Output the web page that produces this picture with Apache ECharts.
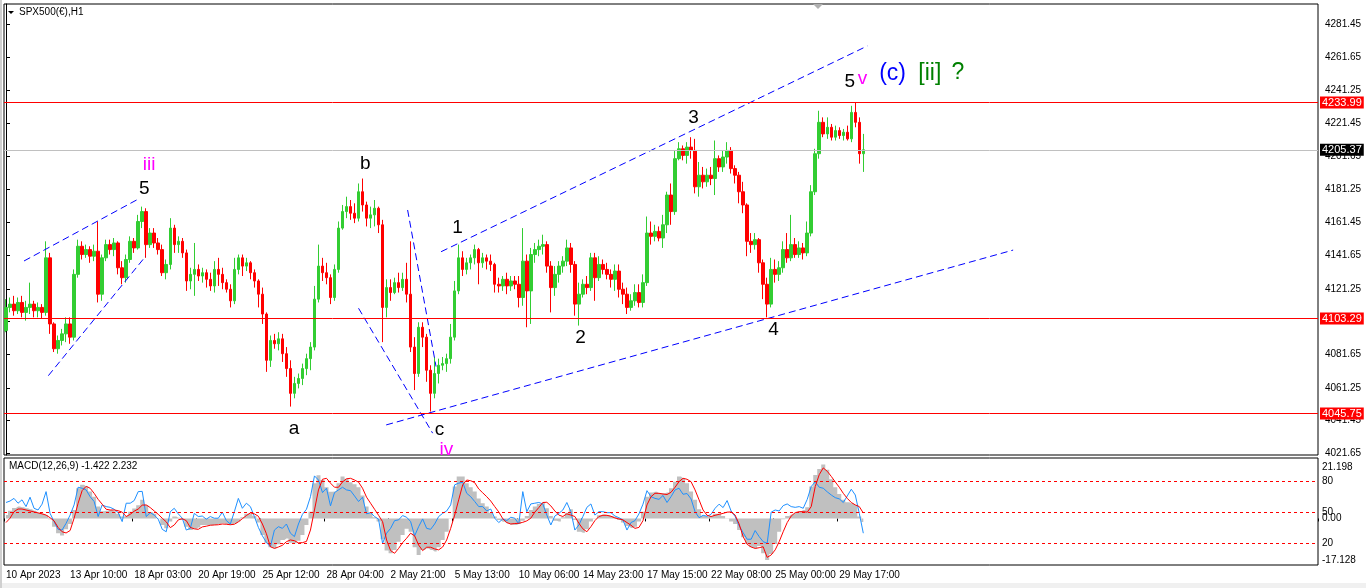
<!DOCTYPE html>
<html>
<head>
<meta charset="utf-8">
<title>SPX500(€),H1</title>
<script src="https://cdn.jsdelivr.net/npm/echarts@6/dist/echarts.min.js"></script>
<style>
html, body { margin: 0; padding: 0; background: #fff; }
#chart { width: 1366px; height: 588px; }
</style>
</head>
<body>
<div id="chart"></div>
<script>
// time axis labels, one every 16 bars
var timeLabels = ['10 Apr 2023', '13 Apr 10:00', '18 Apr 03:00', '20 Apr 19:00', '25 Apr 12:00', '28 Apr 04:00', '2 May 21:00',
	'5 May 13:00', '10 May 06:00', '14 May 23:00', '17 May 15:00', '22 May 08:00', '25 May 00:00', '29 May 17:00'];
// price scale labels
var priceTicks = [4021.65, 4041.45, 4061.25, 4081.65, 4101.45, 4121.25, 4141.65, 4161.45, 4181.25, 4201.65, 4221.45, 4241.25, 4261.65, 4281.45];
var macdTicks = [21.198, 0, -17.128];
var levelTicks = [20, 50, 80];
// horizontal levels
var priceLevels = [4233.99, 4103.29, 4045.75];
var lastPrice = 4205.37;

// candles [open, close, low, high]
var candles = [
	[4096,4110,4095,4115],[4110,4112,4107,4116],[4112,4108,4105,4117],[4108,4113,4106,4116],[4113,4107,4104,4117],
	[4107,4110,4102,4114],[4110,4112,4106,4125],[4112,4108,4104,4114],[4108,4110,4104,4113],[4110,4107,4103,4112],
	[4107,4140,4105,4150],[4140,4100,4094,4143],[4100,4085,4083,4101],[4085,4090,4082,4093],[4090,4094,4087,4097],
	[4094,4100,4089,4104],[4100,4092,4088,4104],[4092,4130,4090,4133],[4130,4147,4128,4151],[4147,4142,4139,4150],
	[4142,4145,4140,4148],[4145,4141,4137,4147],[4141,4144,4138,4148],[4144,4118,4113,4162],[4118,4140,4114,4142],
	[4140,4148,4138,4151],[4148,4145,4142,4151],[4145,4149,4141,4152],[4149,4134,4130,4150],[4134,4128,4124,4138],
	[4128,4139,4125,4142],[4139,4150,4137,4153],[4150,4146,4143,4152],[4146,4162,4145,4166],[4162,4168,4158,4171],
	[4168,4148,4140,4170],[4148,4155,4146,4158],[4155,4149,4146,4158],[4149,4145,4142,4152],[4145,4131,4129,4148],
	[4131,4136,4127,4139],[4136,4158,4133,4164],[4158,4148,4143,4160],[4148,4150,4143,4153],[4150,4143,4140,4152],
	[4143,4126,4120,4145],[4126,4130,4121,4134],[4130,4133,4117,4149],[4133,4129,4126,4136],[4129,4131,4125,4134],
	[4131,4127,4122,4133],[4127,4123,4120,4131],[4123,4133,4119,4138],[4133,4130,4123,4140],[4130,4125,4121,4134],
	[4125,4121,4119,4127],[4121,4114,4110,4124],[4114,4133,4112,4140],[4133,4140,4130,4142],[4140,4135,4129,4142],
	[4135,4137,4132,4140],[4137,4131,4127,4138],[4131,4126,4122,4133],[4126,4118,4110,4127],[4118,4106,4100,4122],
	[4106,4078,4071,4107],[4078,4090,4074,4093],[4090,4088,4085,4094],[4088,4091,4084,4095],[4091,4082,4077,4094],
	[4082,4073,4068,4086],[4073,4058,4050,4078],[4058,4064,4055,4068],[4064,4067,4061,4070],[4067,4073,4063,4076],
	[4073,4079,4069,4082],[4079,4086,4072,4089],[4086,4115,4084,4123],[4115,4135,4113,4148],[4135,4131,4126,4140],
	[4131,4128,4124,4137],[4128,4116,4112,4130],[4116,4133,4114,4136],[4133,4158,4131,4162],[4158,4168,4157,4172],
	[4168,4171,4164,4177],[4171,4167,4163,4175],[4167,4164,4161,4173],[4164,4180,4162,4185],[4180,4172,4168,4188],
	[4172,4164,4159,4174],[4164,4166,4158,4171],[4166,4170,4159,4175],[4170,4160,4155,4171],[4160,4110,4089,4163],
	[4110,4122,4104,4127],[4122,4119,4114,4127],[4119,4125,4118,4128],[4125,4122,4119,4131],[4122,4127,4120,4131],
	[4127,4118,4113,4137],[4118,4086,4083,4150],[4086,4070,4060,4092],[4070,4098,4068,4101],[4098,4092,4086,4101],
	[4092,4072,4065,4094],[4072,4058,4047,4075],[4058,4070,4055,4080],[4070,4075,4064,4079],[4075,4076,4072,4080],
	[4076,4079,4071,4082],[4079,4092,4076,4100],[4092,4120,4090,4126],[4120,4140,4118,4148],[4140,4133,4129,4144],
	[4133,4137,4130,4140],[4137,4140,4133,4142],[4140,4145,4136,4148],[4145,4137,4124,4146],[4137,4140,4134,4143],
	[4140,4138,4133,4142],[4138,4136,4132,4142],[4136,4124,4119,4137],[4124,4123,4119,4128],[4123,4127,4120,4129],
	[4127,4123,4118,4131],[4123,4126,4120,4129],[4126,4124,4121,4129],[4124,4116,4110,4129],[4116,4138,4111,4158],
	[4138,4120,4098,4142],[4120,4142,4100,4146],[4142,4145,4137,4149],[4145,4147,4141,4151],[4147,4148,4142,4154],
	[4148,4135,4131,4150],[4135,4122,4107,4138],[4122,4130,4117,4135],[4130,4135,4125,4138],[4135,4138,4131,4141],
	[4138,4146,4135,4151],[4146,4136,4131,4149],[4136,4112,4105,4138],[4112,4118,4099,4125],[4118,4124,4116,4127],
	[4124,4122,4118,4129],[4122,4140,4120,4143],[4140,4128,4114,4143],[4128,4136,4126,4141],[4136,4133,4130,4139],
	[4133,4130,4127,4137],[4130,4127,4122,4133],[4127,4132,4120,4136],[4132,4121,4116,4136],[4121,4118,4112,4125],
	[4118,4110,4106,4122],[4110,4114,4108,4118],[4114,4119,4111,4124],[4119,4113,4110,4124],[4113,4125,4110,4130],
	[4125,4155,4123,4165],[4155,4153,4148,4162],[4153,4156,4150,4160],[4156,4152,4150,4159],[4152,4160,4146,4166],
	[4160,4178,4155,4180],[4178,4168,4160,4185],[4168,4200,4166,4205],[4200,4206,4199,4210],[4206,4202,4199,4208],
	[4202,4207,4197,4210],[4207,4205,4200,4213],[4205,4183,4179,4212],[4183,4190,4177,4198],[4190,4186,4182,4195],
	[4186,4190,4183,4194],[4190,4188,4184,4195],[4188,4200,4178,4211],[4200,4195,4192,4202],[4195,4201,4192,4205],
	[4201,4205,4197,4210],[4205,4194,4191,4207],[4194,4190,4185,4196],[4190,4180,4173,4192],[4180,4172,4167,4186],
	[4172,4150,4141,4173],[4150,4148,4143,4155],[4148,4151,4145,4155],[4151,4137,4131,4152],[4137,4124,4115,4139],
	[4124,4112,4104,4128],[4112,4133,4110,4140],[4133,4130,4125,4139],[4130,4134,4126,4138],[4134,4145,4131,4150],
	[4145,4140,4137,4155],[4140,4148,4138,4166],[4148,4142,4140,4152],[4142,4146,4140,4150],[4146,4143,4139,4149],
	[4143,4155,4141,4162],[4155,4180,4153,4184],[4180,4203,4178,4206],[4203,4222,4200,4229],[4222,4215,4213,4225],
	[4215,4219,4212,4225],[4219,4213,4211,4221],[4213,4217,4211,4220],[4217,4214,4212,4219],[4214,4216,4211,4218],
	[4216,4212,4211,4220],[4212,4228,4210,4232],[4228,4222,4219,4234],[4222,4203,4197,4225],[4203,4205.37,4192,4215]
];

// MACD histogram (grey)
var macdHist = [
	1.4,3.2,4.3,4.9,4.6,4.2,3.8,3.2,2.4,1.9,
	1.4,-0.3,-3.4,-6.1,-7.0,-4.5,-2.3,3.5,12.5,13.9,
	13.2,11.1,9.0,4.9,3.0,3.2,3.5,3.0,1.9,0.8,
	1.0,2.8,4.1,5.5,7.7,5.6,2.7,1.9,0.1,-2.7,
	-4.1,-1.3,0.8,0.3,-0.6,-3.4,-4.8,-4.3,-3.7,-2.7,
	-2.7,-2.8,-2.7,-2.3,-2.0,-2.4,-2.7,-2.1,-1.3,0.5,
	1.9,1.9,1.0,-1.7,-6.8,-10.3,-11.9,-12.4,-10.7,-8.9,
	-8.3,-10.0,-10.3,-9.2,-6.8,-2.7,2.8,14.6,17.9,15.9,
	12.9,11.0,11.1,14.6,17.3,16.4,15.0,14.1,12.9,9.5,
	4.9,2.4,0.5,-1.3,-8.6,-13.3,-14.4,-13.0,-9.6,-6.8,
	-4.3,-5.5,-11.9,-15.1,-13.0,-12.4,-13.0,-13.7,-11.9,-8.9,
	-5.5,0.1,13.2,17.3,17.3,14.6,12.9,11.1,8.3,6.3,
	4.9,2.4,0.8,-0.6,-1.4,-2.0,-2.6,-2.7,-2.3,-0.9,
	1.0,3.5,4.9,6.0,6.8,4.2,1.0,-0.9,-1.3,0.5,
	2.4,3.8,-0.6,-5.5,-5.9,-4.5,-1.3,0.1,1.3,1.6,
	1.4,1.0,0.5,-0.6,-1.7,-3.1,-3.9,-3.4,-1.3,2.8,
	9.0,10.7,11.0,10.4,10.4,10.7,12.5,15.2,17.3,16.6,
	14.6,11.1,7.7,3.8,1.0,0.8,1.0,1.9,1.9,1.0,
	-0.1,-1.3,-2.3,-4.8,-7.8,-10.6,-11.9,-12.4,-11.4,-14.4,
	-17.2,-14.7,-10.6,-5.5,-0.3,1.0,1.6,2.4,3.0,3.5,
	4.6,13.2,18.0,20.4,22.3,20.1,16.2,12.9,10.1,7.7,
	6.7,6.3,5.6,0.8,-1.422
];
// MACD signal (red)
var macdSignal = [
	-1.7,0.1,2.8,3.9,3.9,3.5,3.1,2.7,2.3,1.9,
	1.4,0.3,-1.0,-3.7,-5.5,-6.0,-5.0,0.1,6.3,11.5,
	13.3,12.5,10.4,7.9,5.9,3.8,3.5,3.5,3.2,2.6,
	0.8,1.7,3.0,3.9,5.5,5.6,4.5,3.1,1.7,0.1,
	-1.4,-3.8,-2.7,-0.6,-0.1,-0.9,-3.7,-4.3,-4.5,-3.5,
	-3.2,-2.8,-2.7,-2.6,-2.3,-2.4,-2.6,-2.4,-1.4,-0.1,
	1.2,2.3,1.9,0.9,-2.3,-6.3,-11.7,-12.4,-11.8,-11.1,
	-9.6,-8.9,-9.2,-10.1,-10.0,-9.5,-4.8,3.5,11.8,16.2,
	16.6,14.6,12.9,12.9,15.1,16.4,16.6,15.9,15.0,12.5,
	8.8,6.3,3.8,1.3,-1.3,-8.9,-13.3,-14.4,-12.4,-10.0,
	-8.2,-6.1,-7.2,-11.0,-13.3,-11.9,-11.9,-12.6,-13.0,-11.8,
	-8.9,-4.1,1.4,7.7,13.9,15.9,15.6,14.8,12.2,10.6,
	9.0,7.2,4.9,2.7,-0.1,-1.7,-2.3,-2.1,-2.0,-1.6,
	-1.0,0.1,2.6,4.5,6.6,6.7,5.2,3.1,1.4,0.8,
	1.9,1.4,0.8,-2.0,-4.3,-5.5,-3.4,-0.9,0.8,1.3,
	1.3,0.9,0.2,-0.2,-0.6,-1.7,-2.8,-4.1,-3.7,-0.9,
	5.6,9.0,10.4,10.4,10.1,9.9,10.8,12.9,15.2,16.6,
	16.2,15.2,11.8,7.7,3.5,1.3,0.8,1.3,1.7,2.1,
	2.6,2.7,1.4,-2.3,-7.5,-10.7,-11.8,-12.4,-12.1,-11.7,
	-16.1,-15.1,-13.0,-9.6,-5.5,-1.7,1.0,2.4,2.8,2.8,
	2.6,4.9,13.2,18.1,20.9,19.5,17.4,15.1,12.9,10.4,
	8.3,6.6,5.6,4.9,2.232
];
// fast line (blue)
var fastLine = [
	6.6,7.2,8.3,6.3,7.7,4.9,8.8,4.2,3.5,5.9,
	11.1,2.1,-1.3,-4.5,-4.8,-2.0,1.4,5.6,12.9,12.5,
	11.8,9.0,7.0,0.8,5.6,4.9,4.6,3.8,2.4,-1.3,
	6.3,6.3,7.4,11.1,11.2,0.8,2.4,1.4,-0.3,-4.5,
	-5.5,2.8,4.2,1.9,0.1,-4.8,-4.1,2.1,0.8,1.0,
	-0.3,0.8,0.1,0.1,2.6,-0.9,-2.3,2.8,8.3,4.2,
	6.3,4.9,0.8,-3.7,-7.2,-9.9,-11.7,-4.8,-3.4,-4.1,
	-2.3,-6.1,-7.5,-2.3,1.7,3.8,9.0,17.6,15.9,10.7,
	12.5,5.2,10.7,11.8,12.9,11.8,11.5,9.3,7.0,8.8,
	1.9,2.4,0.8,-0.3,-10.3,-6.1,-4.1,-0.9,-0.6,1.2,
	0.5,-1.3,-7.2,-3.4,-0.2,-4.1,-4.5,-2.3,0.8,2.1,
	3.1,5.6,13.9,14.6,15.0,10.4,9.0,7.0,4.9,4.9,
	3.1,3.9,0.1,-1.7,-0.2,-0.9,0.5,0.1,-2.3,11.1,
	2.8,6.0,6.3,6.6,6.0,1.4,-2.7,1.0,2.1,3.5,
	6.6,2.8,-4.8,-2.7,0.8,4.6,6.0,1.4,2.8,2.8,
	2.4,2.4,1.0,0.3,-0.6,-4.8,-1.7,-0.9,1.9,5.9,
	11.5,9.0,8.3,7.9,9.5,6.6,9.0,11.8,12.5,10.0,
	10.3,8.1,2.8,0.3,1.3,0.9,1.7,4.2,5.9,4.5,
	7.4,3.1,0.8,-3.0,-5.9,-8.6,-8.6,-5.0,-7.5,-9.6,
	-10.3,2.6,3.5,3.1,5.3,6.0,4.9,4.6,4.9,4.2,
	7.9,13.2,15.2,12.9,12.5,11.0,9.7,8.6,8.1,6.6,
	9.3,12.1,9.7,2.1,-6.1
];

// trend lines [[bar, price], [bar, price]]
var trendLines = [
	[[108.6, 4143.7], [215.0, 4268.2]],
	[[94.9, 4038.9], [251.4, 4144.7]],
	[[4.5, 4138.1], [33.05, 4175.6]],
	[[10.57, 4068.7], [34.9, 4141.1]],
	[[88.0, 4109.5], [106.5, 4033.9]],
	[[100.25, 4168.95], [107.35, 4074.2]]
];

// wave labels
var waveText = ['iii', '5', 'b', 'a', 'c', 'iv', '1', '2', '3', '4', '5', 'v', '(c)', '[ii]', '?'];
var waveBar = [35.7, 34.5, 89.7, 71.9, 108.2, 109.9, 112.7, 143.4, 171.6, 191.6, 210.6, 213.8, 221.3, 230.6, 237.6];
var wavePrice = [4196.2, 4181.7, 4196.8, 4036.5, 4035.9, 4023.8, 4158.1, 4091.5, 4224.6, 4096.3, 4246.4, 4248.2, 4251.2, 4251.2, 4251.8];

var BAR_SLOTS = 328;
var FONT = 'Liberation Sans, Arial, sans-serif';

var cats = [];
for (var i = 0; i < BAR_SLOTS; i++) cats.push(String(i));

var waveColor = { 'iii': '#ff00ff', 'iv': '#ff00ff', 'v': '#ff00ff', '(c)': '#0000ff', '[ii]': '#008000', '?': '#008000' };
var waveBig = { '(c)': true, '[ii]': true, '?': true };

var showTime = function (idx) {
	return idx % 16 === 0 && idx / 16 < timeLabels.length;
};

var chart = echarts.init(document.getElementById('chart'));

var levelLines = priceLevels.map(function (v) {
	return {
		yAxis: v,
		lineStyle: { color: '#ff0000', width: 1, type: 'solid' },
		label: { backgroundColor: '#ff0000', color: '#ffffff' }
	};
});
levelLines.push({
	yAxis: lastPrice,
	lineStyle: { color: '#c0c0c0', width: 1, type: 'solid' },
	label: { backgroundColor: '#000000', color: '#ffffff' }
});

var series = [{
	type: 'candlestick',
	xAxisIndex: 0,
	yAxisIndex: 0,
	data: candles,
	barWidth: 3,
	itemStyle: {
		color: '#32cd32', color0: '#ff0000',
		borderColor: '#32cd32', borderColor0: '#ff0000', borderWidth: 1
	},
	markLine: {
		silent: true,
		symbol: ['none', 'none'],
		animation: false,
		label: {
			show: true, position: 'end', distance: 2,
			fontFamily: FONT, fontSize: 11, padding: [1, 2, 0, 2],
			formatter: function (p) { return p.value.toFixed(2); }
		},
		data: levelLines
	}
}];

trendLines.forEach(function (seg) {
	series.push({
		type: 'line',
		xAxisIndex: 1,
		yAxisIndex: 0,
		data: seg,
		showSymbol: false,
		silent: true,
		lineStyle: { color: '#0000ff', width: 1, type: [7, 4] }
	});
});

series.push({
	type: 'scatter',
	xAxisIndex: 1,
	yAxisIndex: 0,
	symbolSize: 1,
	silent: true,
	itemStyle: { color: 'rgba(0,0,0,0)', opacity: 1 },
	data: waveText.map(function (t, k) {
		return {
			value: [waveBar[k], wavePrice[k]],
			label: {
				show: true, position: 'inside', formatter: t,
				color: waveColor[t] || '#000000', opacity: 1,
				fontFamily: FONT, fontSize: waveBig[t] ? 23 : 19
			}
		};
	})
});

// histogram drawn as a stepped grey area so the columns join up
series.push({
	type: 'line',
	xAxisIndex: 2,
	yAxisIndex: 1,
	data: macdHist,
	step: 'middle',
	showSymbol: false,
	silent: true,
	lineStyle: { width: 0, color: '#c0c0c0' },
	areaStyle: { color: '#c0c0c0', opacity: 1, origin: 0 }
});
series.push({
	type: 'line',
	xAxisIndex: 2,
	yAxisIndex: 1,
	data: fastLine,
	showSymbol: false,
	silent: true,
	lineStyle: { color: '#1e90ff', width: 1 }
});
series.push({
	type: 'line',
	xAxisIndex: 2,
	yAxisIndex: 1,
	data: macdSignal,
	showSymbol: false,
	silent: true,
	lineStyle: { color: '#ff0000', width: 1 }
});
series.push({
	type: 'line',
	xAxisIndex: 2,
	yAxisIndex: 2,
	data: [],
	markLine: {
		silent: true,
		symbol: ['none', 'none'],
		animation: false,
		label: { show: false },
		lineStyle: { color: '#ff0000', width: 1, type: [3, 3] },
		data: levelTicks.map(function (v) { return { yAxis: v }; })
	}
});

var option = {
	animation: false,
	backgroundColor: '#ffffff',
	textStyle: { fontFamily: FONT },
	title: [{
		text: 'SPX500(€),H1', left: 19, top: 7, padding: 0,
		textStyle: { fontFamily: FONT, fontSize: 10, fontWeight: 'normal', color: '#000' }
	}, {
		text: 'MACD(12,26,9) -1.422 2.232', left: 9, top: 461, padding: 0,
		textStyle: { fontFamily: FONT, fontSize: 10, fontWeight: 'normal', color: '#000' }
	}],
	graphic: [
		{ type: 'polygon', shape: { points: [[8, 11], [14, 11], [11, 14]] }, style: { fill: '#000' } },
		{ type: 'polygon', shape: { points: [[813, 4], [823, 4], [818, 9]] }, style: { fill: '#b0b0b0' } },
		{ type: 'rect', shape: { x: 0, y: 583, width: 1366, height: 5 }, style: { fill: '#f0f0f0' } },
		{ type: 'rect', shape: { x: 0, y: 0, width: 2, height: 588 }, style: { fill: '#d0d0d0' } }
	],
	grid: [
		{ left: 4, top: 4, width: 1314, height: 451, show: true, borderColor: '#000', borderWidth: 1, backgroundColor: '#fff' },
		{ left: 4, top: 458, width: 1314, height: 107, show: true, borderColor: '#000', borderWidth: 1, backgroundColor: '#fff' }
	],
	xAxis: [{
		type: 'category', gridIndex: 0, data: cats, show: false
	}, {
		type: 'value', gridIndex: 0, min: -0.5, max: BAR_SLOTS - 0.5, show: false
	}, {
		type: 'category', gridIndex: 1, data: cats,
		axisLine: { show: false },
		axisTick: { show: true, length: 3, interval: showTime, lineStyle: { color: '#000' } },
		axisLabel: {
			interval: showTime, align: 'left', margin: 5,
			color: '#000', fontFamily: FONT, fontSize: 10,
			formatter: function (v, idx) { return timeLabels[idx / 16] || ''; }
		},
		splitLine: { show: false }
	}],
	yAxis: [{
		type: 'value', gridIndex: 0, position: 'right',
		min: 4020.7, max: 4293.6,
		splitLine: { show: false },
		axisLine: { show: true, lineStyle: { color: '#000' } },
		axisTick: { show: true, length: 4, customValues: priceTicks, lineStyle: { color: '#000' } },
		axisLabel: {
			customValues: priceTicks, margin: 7, color: '#000', fontFamily: FONT, fontSize: 10,
			formatter: function (v) { return v.toFixed(2); }
		}
	}, {
		type: 'value', gridIndex: 1, position: 'right',
		min: -19.25, max: 25,
		splitLine: { show: false },
		axisLine: { show: false },
		axisTick: { show: false },
		axisLabel: {
			customValues: macdTicks, margin: 4, color: '#000', fontFamily: FONT, fontSize: 10,
			formatter: function (v) { return v === 0 ? '0.00' : String(v); }
		}
	}, {
		type: 'value', gridIndex: 1, position: 'right', offset: 0,
		min: -0.4, max: 102,
		splitLine: { show: false },
		axisLine: { show: false },
		axisTick: { show: false },
		axisLabel: {
			customValues: levelTicks, margin: 4, color: '#000', fontFamily: FONT, fontSize: 10
		}
	}],
	series: series
};

chart.setOption(option);
</script>
</body>
</html>
